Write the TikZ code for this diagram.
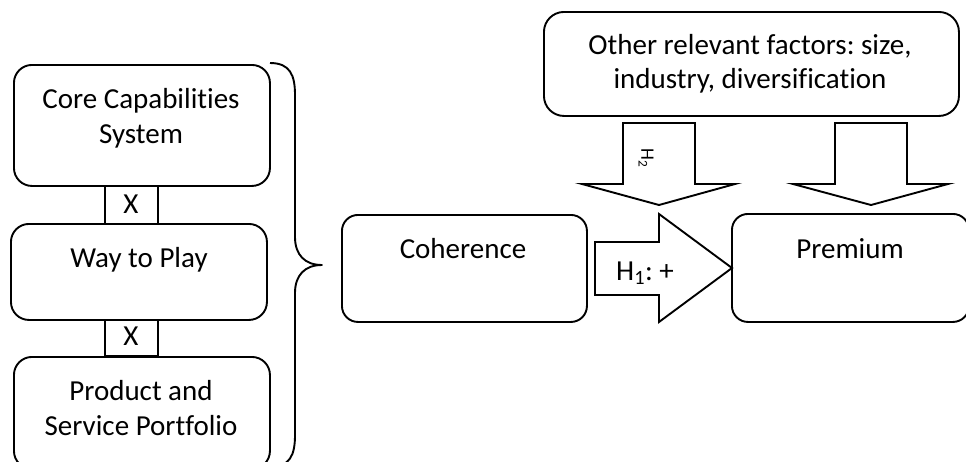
\documentclass[tikz,border=0pt]{standalone}
\usepackage{fontspec}
\setmainfont{Carlito}[Ligatures=NoCommon]
\frenchspacing
\begin{document}
\begin{tikzpicture}[x=1pt,y=-1pt,
  line width=1.9pt, line join=round,
  box/.style={draw, rounded corners=18pt, inner sep=0pt, anchor=north west},
  xbox/.style={draw, inner sep=0pt, anchor=north west},
  txt/.style={inner sep=0pt, anchor=base, font=\fontsize{29}{35}\selectfont},
  blockarrow/.style={draw, fill=white, line join=miter},
]
\useasboundingbox (0,0) rectangle (966,461);
\begin{scope}
\clip (0,0) rectangle (966,461);

% left column: the three strategy elements joined by "X" links
\node[box, minimum width=256, minimum height=121] (core) at (13,64) {};
\node[xbox, minimum width=53, minimum height=38] (x1) at (104,185) {};
\node[box, minimum width=256, minimum height=96] (way) at (10,223) {};
\node[xbox, minimum width=53, minimum height=36] (x2) at (104,319) {};
\node[box, minimum width=256, minimum height=112] (prod) at (13,356) {};

\node[txt] (coreA) at (141,108) {Core Capabilities};
\node[txt] (coreB) at (141,143) {System};
\node[txt] (x1t) at (131,213) {X};
\node[txt] (wayt) at (139,267) {Way to Play};
\node[txt] (x2t) at (131,345) {X};
\node[txt] (prodA) at (141,400) {Product and};
\node[txt] (prodB) at (141,435) {Service Portfolio};

% curly brace gathering the left column
\draw (270,63) .. controls (290,63) and (295,75) .. (295,95) -- (295,237)
      .. controls (295,255) and (305,265) .. (322,265)
      .. controls (305,265) and (295,275) .. (295,293) -- (295,435)
      .. controls (295,455) and (290,467) .. (270,467);

% coherence and premium
\node[box, rounded corners=16pt, minimum width=245, minimum height=107] (coh) at (341,214) {};
\node[txt] (coht) at (463,258) {Coherence};
\node[box, rounded corners=16pt, minimum width=237, minimum height=108] (prem) at (731,213) {};
\node[txt] (premt) at (850,258) {Premium};

% other factors
\node[box, rounded corners=20pt, minimum width=415, minimum height=104] (oth) at (543,11) {};
\node[txt] (othA) at (750,54) {Other relevant factors: size,};
\node[txt] (othB) at (750,88) {industry, diversification};

% block arrows
\draw[blockarrow] (595,242) -- (659,242) -- (659,214) -- (732,268) -- (659,322)
      -- (659,295) -- (595,295) -- cycle;
\draw[blockarrow] (623,123) -- (695,123) -- (695,184) -- (735,184) -- (659,205)
      -- (582,184) -- (623,184) -- cycle;
\draw[blockarrow] (835,123) -- (907,123) -- (907,184) -- (948,184) -- (871,205)
      -- (793,184) -- (835,184) -- cycle;

\node[txt] (h1) at (645,280) {H\textsubscript{1}: +};
\node[inner sep=0pt, rotate=-90, font=\fontsize{19}{22}\selectfont] (h2) at (646,158) {H\textsubscript{2}};
\end{scope}
\end{tikzpicture}
\end{document}
